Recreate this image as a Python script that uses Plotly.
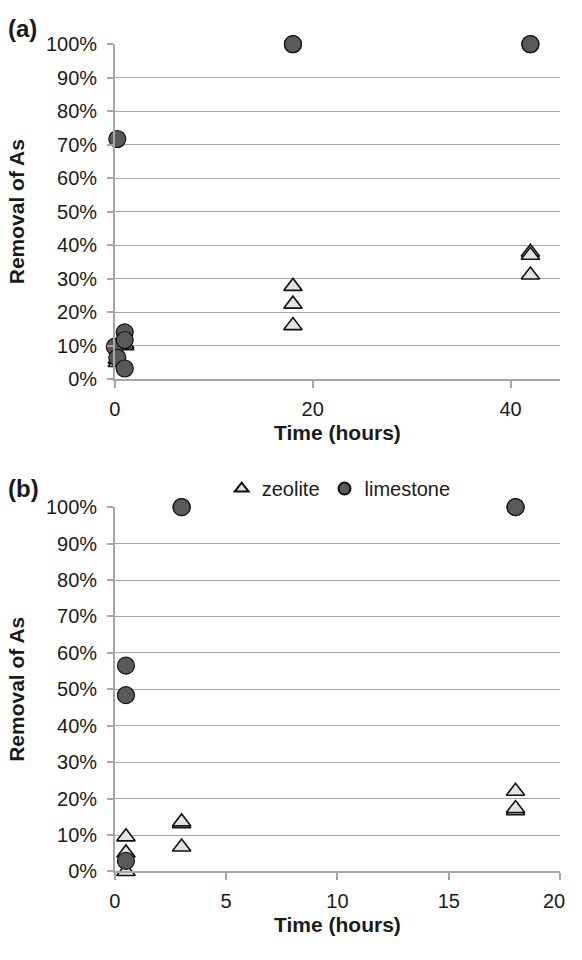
import plotly.graph_objects as go

# Panel (a): removal of As over time (hours)
a_zeolite_t = [0.25, 0.25, 1, 1, 18, 18, 18, 42, 42, 42]
a_zeolite_r = [0.05, 0.06, 0.10, 0.105, 0.277, 0.224, 0.16, 0.379, 0.370, 0.311]
a_lime_t = [0.25, 0, 0.25, 1, 1, 1, 18, 18, 42, 42]
a_lime_r = [0.717, 0.097, 0.064, 0.14, 0.117, 0.032, 1.0, 1.0, 1.0, 1.0]

# Panel (b)
b_zeolite_t = [0.5, 0.5, 0.5, 3, 3, 3, 18, 18, 18]
b_zeolite_r = [0.095, 0.051, 0.0, 0.131, 0.136, 0.067, 0.22, 0.167, 0.173]
b_lime_t = [0.5, 0.5, 0.5, 3, 3, 18, 18]
b_lime_r = [0.565, 0.484, 0.029, 1.0, 1.0, 1.0, 1.0]

a_xticks = [0, 20, 40]
b_xticks = [0, 5, 10, 15, 20]
y_ticks = [i / 10 for i in range(11)]

FONT = "Liberation Sans, Arial, sans-serif"
TXT = "#1a1a1a"
GRID = "#a6a6a6"

tri = dict(symbol="triangle-up", size=16, color="#e3e3e3",
           line=dict(color="#111111", width=1.6))
dot = dict(symbol="circle", size=17, color="#595959",
           line=dict(color="#111111", width=1.2))

fig = go.Figure()
fig.add_trace(go.Scatter(x=a_zeolite_t, y=a_zeolite_r, mode="markers", marker=tri,
                         name="zeolite", showlegend=False, cliponaxis=False,
                         xaxis="x", yaxis="y"))
fig.add_trace(go.Scatter(x=a_lime_t, y=a_lime_r, mode="markers", marker=dot,
                         name="limestone", showlegend=False, cliponaxis=False,
                         xaxis="x", yaxis="y"))
fig.add_trace(go.Scatter(x=b_zeolite_t, y=b_zeolite_r, mode="markers", marker=tri,
                         name="zeolite", cliponaxis=False, xaxis="x2", yaxis="y2"))
fig.add_trace(go.Scatter(x=b_lime_t, y=b_lime_r, mode="markers", marker=dot,
                         name="limestone", cliponaxis=False, xaxis="x2", yaxis="y2"))

# The page body keeps its default 8px margin on every side
PAD = 8
W, H = 582 - 2 * PAD, 960 - 2 * PAD

def px(x):
    return (x - PAD) / W

def py(y):
    return (H - (y - PAD)) / H

x_dom = [px(118), px(568)]

tickfont = dict(size=20, color=TXT, family=FONT)
xcommon = dict(showline=True, linecolor=GRID, linewidth=1.5, ticks="outside",
               ticklen=7, tickcolor=GRID, tickwidth=1.5, showgrid=False,
               zeroline=False, ticklabelstandoff=4, tickfont=tickfont,
               title_font=dict(size=21, color=TXT, family=FONT))
ycommon = dict(showline=True, linecolor=GRID, linewidth=1.5, ticks="outside",
               ticklen=6, tickcolor=GRID, tickwidth=1.5, showgrid=True,
               gridcolor=GRID, gridwidth=1.2, zeroline=False,
               tickvals=y_ticks, tickformat=".0%", range=[0, 1],
               ticklabelstandoff=6, tickfont=tickfont,
               title=dict(text="<b>Removal of As</b>", standoff=16,
                          font=dict(size=21, color=TXT, family=FONT)))

# The last tick label of panel (b) sits on the right page edge; it is written
# as an annotation on the x2 scale, nudged inward so it stays on the page.
b_main_text = [str(v) for v in b_xticks[:-1]] + [""]

fig.update_layout(
    width=W, height=H,
    margin=dict(l=0, r=0, t=0, b=0),
    paper_bgcolor="white", plot_bgcolor="white",
    font=dict(family=FONT, color=TXT),
    xaxis=dict(domain=x_dom, anchor="y", range=[0, 45], tickvals=a_xticks,
               title=dict(text="<b>Time (hours)</b>", standoff=6), **xcommon),
    yaxis=dict(domain=[py(385), py(42)], anchor="x", **ycommon),
    xaxis2=dict(domain=x_dom, anchor="y2", range=[0, 20], tickvals=b_xticks,
                ticktext=b_main_text,
                title=dict(text="<b>Time (hours)</b>", standoff=6), **xcommon),
    yaxis2=dict(domain=[py(889), py(516)], anchor="x2", **ycommon),
    legend=dict(orientation="h", x=px(226), xanchor="left",
                y=py(497), yanchor="middle", itemwidth=30,
                itemsizing="constant",
                font=dict(size=20, color=TXT, family=FONT),
                bgcolor="rgba(0,0,0,0)"),
    annotations=[
        dict(text="<b>(a)</b>", x=px(8), y=py(26), xref="paper", yref="paper",
             xanchor="left", yanchor="middle", showarrow=False,
             font=dict(size=24, color=TXT, family=FONT)),
        dict(text="<b>(b)</b>", x=px(8), y=py(497), xref="paper", yref="paper",
             xanchor="left", yanchor="middle", showarrow=False,
             font=dict(size=24, color=TXT, family=FONT)),
        dict(text=str(b_xticks[-1]), x=b_xticks[-1], xref="x2",
             y=py(889), yref="paper", xanchor="center", yanchor="top",
             xshift=-6, yshift=-17, showarrow=False, font=tickfont),
    ],
)

fig.write_html("out.html")
